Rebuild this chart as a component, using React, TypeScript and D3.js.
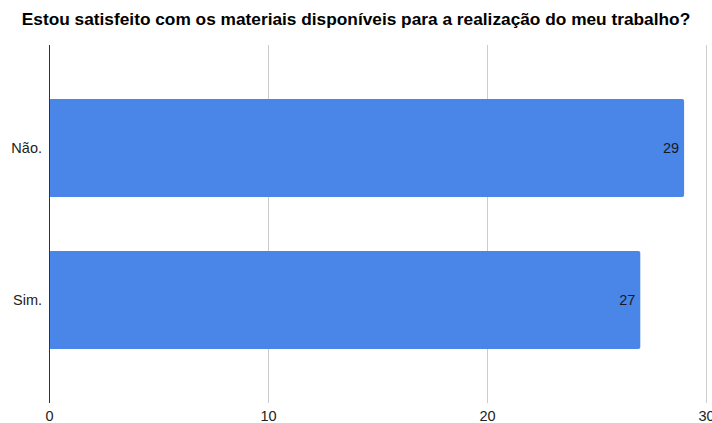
import React, { useEffect, useRef } from 'react';
import * as d3 from 'd3';

const title = 'Estou satisfeito com os materiais disponíveis para a realização do meu trabalho?';
const categories = ['Não.', 'Sim.'];
const counts = [29, 27];
const xTicks = [0, 10, 20, 30];

const width = 712;
const height = 423;

const App: React.FC = () => {
  const svgRef = useRef<SVGSVGElement>(null);

  useEffect(() => {
    if (!svgRef.current) return;
    const svg = d3.select(svgRef.current);
    svg.selectAll('*').remove();

    const font = 'Arial, "Liberation Sans", sans-serif';

    const x = d3.scaleLinear().domain([0, 30]).range([49, 706]);
    const y = d3.scaleBand<string>()
      .domain(categories)
      .range([72, 376])
      .paddingInner(0.355)
      .paddingOuter(0.1776);

    const plotTop = 45;
    const plotBottom = 403;

    // title
    svg.append('text')
      .attr('x', 356)
      .attr('y', 25)
      .attr('text-anchor', 'middle')
      .style('font-family', font)
      .style('font-size', '17.3px')
      .style('font-weight', 'bold')
      .style('fill', '#000')
      .text(title);

    // gridlines
    svg.append('g')
      .selectAll('line')
      .data(xTicks.filter(d => d !== 0))
      .enter().append('line')
      .attr('x1', d => x(d) + 0.5)
      .attr('x2', d => x(d) + 0.5)
      .attr('y1', plotTop)
      .attr('y2', plotBottom)
      .style('stroke', '#cccccc')
      .style('stroke-width', 1);

    // bars
    svg.append('g')
      .selectAll('rect')
      .data(counts)
      .enter().append('rect')
      .attr('x', x(0))
      .attr('y', (_, i) => y(categories[i]) || 0)
      .attr('width', d => x(d) - x(0))
      .attr('height', y.bandwidth())
      .attr('rx', 2)
      .style('fill', '#4a86e8');

    // zero axis line
    svg.append('line')
      .attr('x1', x(0) + 0.5)
      .attr('x2', x(0) + 0.5)
      .attr('y1', plotTop)
      .attr('y2', plotBottom)
      .style('stroke', '#333333')
      .style('stroke-width', 1);

    // value labels
    svg.append('g')
      .selectAll('text')
      .data(counts)
      .enter().append('text')
      .attr('x', d => x(d) - 5)
      .attr('y', (_, i) => (y(categories[i]) || 0) + y.bandwidth() / 2)
      .attr('dy', '0.35em')
      .attr('text-anchor', 'end')
      .style('font-family', font)
      .style('font-size', '14.5px')
      .style('fill', '#1a1a1a')
      .text(d => d);

    // category labels
    svg.append('g')
      .selectAll('text')
      .data(categories)
      .enter().append('text')
      .attr('x', 42)
      .attr('y', d => (y(d) || 0) + y.bandwidth() / 2)
      .attr('dy', '0.35em')
      .attr('text-anchor', 'end')
      .style('font-family', font)
      .style('font-size', '14.5px')
      .style('fill', '#222')
      .text(d => d);

    // x tick labels
    svg.append('g')
      .selectAll('text')
      .data(xTicks)
      .enter().append('text')
      .attr('x', d => x(d) + 0.5)
      .attr('y', 421)
      .attr('text-anchor', 'middle')
      .style('font-family', font)
      .style('font-size', '14.5px')
      .style('fill', '#222')
      .text(d => d);
  }, []);

  return (
    <svg
      ref={svgRef}
      width={width}
      height={height}
      style={{ position: 'absolute', left: 0, top: 0, background: '#fff' }}
    />
  );
};

export default App;
